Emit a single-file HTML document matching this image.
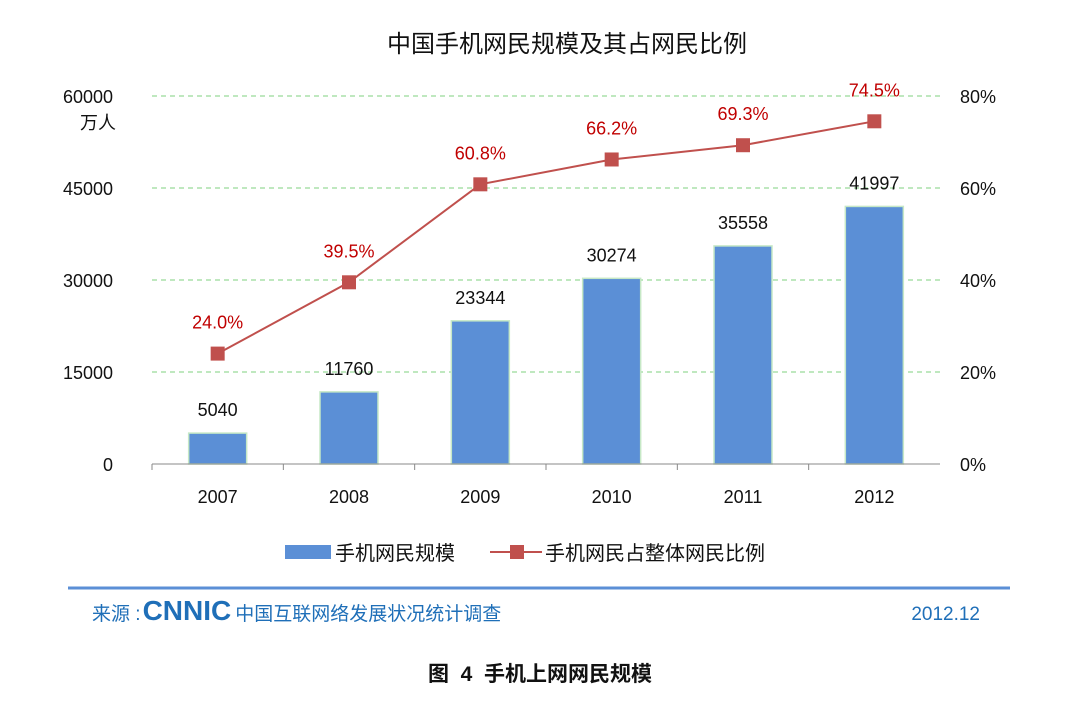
<!DOCTYPE html>
<html><head><meta charset="utf-8"><style>
body{margin:0;background:#fff;width:1080px;height:708px;overflow:hidden;font-family:"Liberation Sans","Noto Sans CJK SC",sans-serif;}
svg text{font-family:"Liberation Sans","Noto Sans CJK SC",sans-serif;}
</style></head><body>
<svg id="c" width="1080" height="708">
<text x="567" y="52" font-size="24" text-anchor="middle" fill="#111">中国手机网民规模及其占网民比例</text>
<text x="113" y="103" font-size="18" text-anchor="end" fill="#111">60000</text>
<text x="98" y="129" font-size="18" text-anchor="middle" fill="#111">万人</text>
<g id="grid"></g><g id="bars"></g><g id="line"></g><g id="axes"></g>
<g>
<rect x="285" y="545" width="46" height="14" fill="#5b8fd6"/>
<text x="335" y="560" font-size="20" fill="#111">手机网民规模</text>
<line x1="490" y1="552" x2="542" y2="552" stroke="#c0504d" stroke-width="2"/>
<rect x="510" y="545" width="14" height="14" fill="#c0504d"/>
<text x="545" y="560" font-size="20" fill="#111">手机网民占整体网民比例</text>
</g>
<line x1="68" y1="588" x2="1010" y2="588" stroke="#5b8fd6" stroke-width="3"/>
<text x="92" y="620" font-size="19" fill="#1f6fb8">来源 :<tspan font-weight="bold" font-size="28" dx="2">CNNIC</tspan><tspan dx="4" font-size="19">中国互联网络发展状况统计调查</tspan></text>
<text x="980" y="620" font-size="19" text-anchor="end" fill="#1f6fb8">2012.12</text>
<text x="540" y="681" font-size="21" font-weight="bold" text-anchor="middle" fill="#111" xml:space="preserve">图  4  手机上网网民规模</text>
</svg>
<script>
const years=["2007","2008","2009","2010","2011","2012"];
const users=[5040,11760,23344,30274,35558,41997];
const ratio=[24.0,39.5,60.8,66.2,69.3,74.5];
const leftTicks=[0,15000,30000,45000];
const rightTicks=[0,20,40,60,80];
const NS="http://www.w3.org/2000/svg";
const x0=152,x1=940,yb=464,yt=96;
const xs=i=>x0+(x1-x0)/years.length*(i+0.5);
const yl=v=>yb-(v/60000)*(yb-yt);
const yr=v=>yb-(v/80)*(yb-yt);
function mk(p,t,a){const e=document.createElementNS(NS,t);for(const k in a)e.setAttribute(k,a[k]);document.getElementById(p).appendChild(e);return e;}
rightTicks.forEach(v=>{if(v>0){const g=mk('grid','line',{x1:x0,x2:x1,y1:yr(v),y2:yr(v),stroke:'#7fd17f','stroke-dasharray':'5,4'});

}
const t=mk('axes','text',{x:960,y:yr(v)+7,'font-size':18,fill:'#111'});t.textContent=v+'%';

});
leftTicks.forEach(v=>{const t=mk('axes','text',{x:113,y:yl(v)+7,'font-size':18,'text-anchor':'end',fill:'#111'});t.textContent=v;

});
const ax=mk('axes','line',{x1:x0,x2:x1,y1:yb,y2:yb,stroke:'#888'});


years.forEach((y,i)=>{const x=xs(i);
const b=mk('bars','rect',{x:x-29,y:yl(users[i]),width:58,height:yb-yl(users[i]),fill:'#5b8fd6',stroke:'#c6e8c6','stroke-width':1.5});


const l=mk('bars','text',{x:x,y:yl(users[i])-17,'font-size':18,'text-anchor':'middle',fill:'#111'});l.textContent=users[i];


const t=mk('axes','text',{x:x,y:503,'font-size':18,'text-anchor':'middle',fill:'#111'});t.textContent=y;


const k=mk('axes','line',{x1:x0+(x1-x0)/6*i,x2:x0+(x1-x0)/6*i,y1:yb,y2:yb+6,stroke:'#888'});

});
const pl=mk('line','polyline',{points:ratio.map((v,i)=>xs(i)+','+yr(v)).join(' '),fill:'none',stroke:'#c0504d','stroke-width':2});


ratio.forEach((v,i)=>{const m=mk('line','rect',{x:xs(i)-7,y:yr(v)-7,width:14,height:14,fill:'#c0504d'});


const t=mk('line','text',{x:xs(i),y:yr(v)-25,'font-size':18,'text-anchor':'middle',fill:'#c00000'});t.textContent=v.toFixed(1)+'%';

});
</script>
</body></html>
